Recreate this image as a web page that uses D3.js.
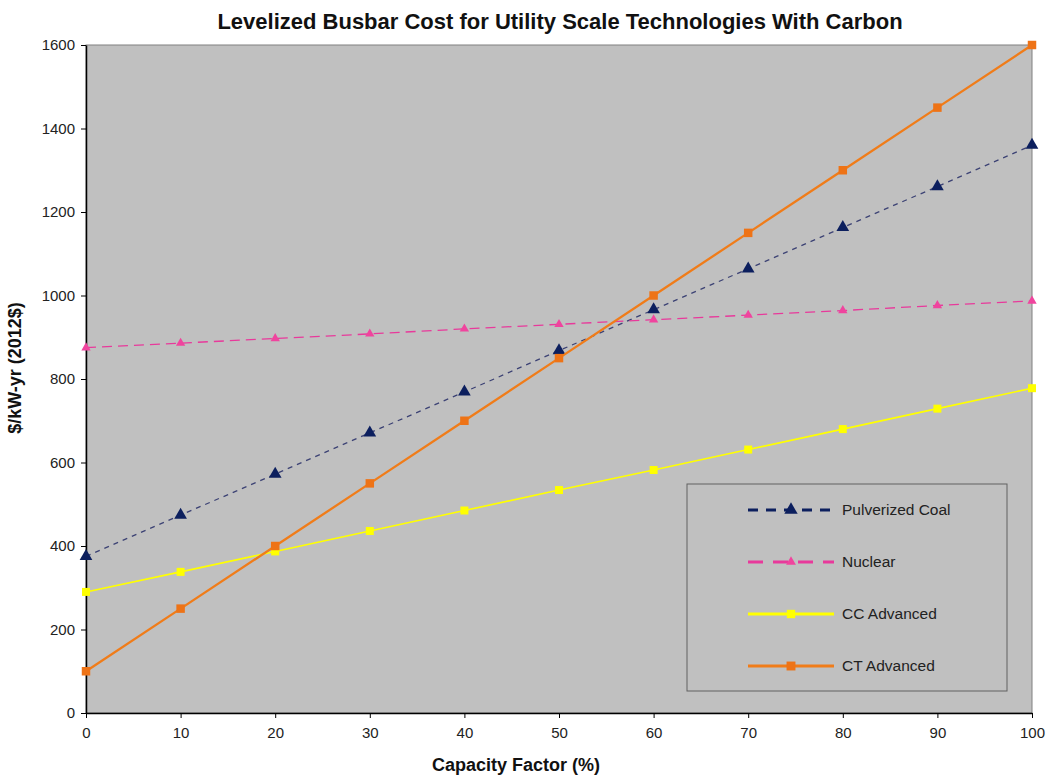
<!DOCTYPE html>
<html>
<head>
<meta charset="utf-8">
<script src="https://cdn.jsdelivr.net/npm/d3@7"></script>
<style>
  body { margin: 0; background: #fff; font-family: "Liberation Sans", Arial, sans-serif; }
</style>
</head>
<body>
<div id="chart"></div>
<script>
// Capacity factor (%) on the x axis
const capacity = [0, 10, 20, 30, 40, 50, 60, 70, 80, 90, 100];

// $/kW-yr (2012$)
const coal = [375, 474, 572, 671, 769, 868, 966, 1064, 1163, 1261, 1360];
const nuclear = [875, 886, 897, 908, 920, 931, 942, 953, 964, 976, 987];
const ccAdvanced = [290, 338, 387, 436, 485, 534, 582, 631, 680, 729, 778];
const ctAdvanced = [100, 250, 400, 550, 700, 850, 1000, 1150, 1300, 1450, 1600];

const seriesNames = ['Pulverized Coal', 'Nuclear', 'CC Advanced', 'CT Advanced'];
const yTicks = [0, 200, 400, 600, 800, 1000, 1200, 1400, 1600];

const W = 1048, H = 775;
const margin = { top: 45, right: 16, bottom: 62, left: 86 };
const width = W - margin.left - margin.right;
const height = H - margin.top - margin.bottom;

const svg = d3.select('#chart').append('svg')
    .attr('width', W)
    .attr('height', H);

const g = svg.append('g')
    .attr('transform', `translate(${margin.left},${margin.top})`);

const x = d3.scaleLinear().domain([0, 100]).range([0, width]);
const y = d3.scaleLinear().domain([0, 1600]).range([height, 0]);

// plot background
g.append('rect')
    .attr('width', width)
    .attr('height', height)
    .attr('fill', '#c0c0c0')
    .attr('stroke', '#808080')
    .attr('stroke-width', 1);

// axes
const xAxis = g.append('g')
    .attr('transform', `translate(0,${height})`)
    .call(d3.axisBottom(x).tickValues(capacity).tickFormat(d3.format('d')).tickSize(5).tickSizeOuter(0));
const yAxis = g.append('g')
    .call(d3.axisLeft(y).tickValues(yTicks).tickFormat(d3.format('d')).tickSize(5).tickSizeOuter(0));

[xAxis, yAxis].forEach(ax => {
    ax.select('.domain').attr('stroke', '#000').attr('stroke-width', 1.5);
    ax.selectAll('.tick line').attr('stroke', '#000');
    ax.selectAll('text')
        .style('font-family', '"Liberation Sans", Arial, sans-serif')
        .style('font-size', '15px')
        .style('fill', '#222');
});
xAxis.selectAll('text').attr('dy', '1.15em');
yAxis.selectAll('text').attr('x', -11);

// title + axis labels
svg.append('text')
    .attr('x', 560)
    .attr('y', 29)
    .attr('text-anchor', 'middle')
    .style('font-size', '22px')
    .style('font-weight', 'bold')
    .style('fill', '#111')
    .text('Levelized Busbar Cost for Utility Scale Technologies With Carbon');

svg.append('text')
    .attr('x', 516)
    .attr('y', 771)
    .attr('text-anchor', 'middle')
    .style('font-size', '18px')
    .style('font-weight', 'bold')
    .style('fill', '#111')
    .text('Capacity Factor (%)');

svg.append('text')
    .attr('transform', 'rotate(-90)')
    .attr('x', -368)
    .attr('y', 21)
    .attr('text-anchor', 'middle')
    .style('font-size', '18px')
    .style('font-weight', 'bold')
    .style('fill', '#111')
    .text('$/kW-yr (2012$)');

// series styles
const styles = {
    'Pulverized Coal': { values: coal, line: '#3c4274', marker: '#0c1f5e', dash: '5,5', width: 1.3, shape: 'triangle', size: 70 },
    'Nuclear': { values: nuclear, line: '#e8399b', marker: '#f0449e', dash: '10,6', width: 1.3, shape: 'triangle', size: 38 },
    'CC Advanced': { values: ccAdvanced, line: '#ffff00', marker: '#ffff00', dash: null, width: 1.6, shape: 'square', size: 64 },
    'CT Advanced': { values: ctAdvanced, line: '#f07c19', marker: '#ee7316', dash: null, width: 2.3, shape: 'square', size: 72 }
};

const line = d3.line()
    .x((d, i) => x(capacity[i]))
    .y(d => y(d));

function symbolFor(s) {
    return d3.symbol()
        .type(s.shape === 'triangle' ? d3.symbolTriangle : d3.symbolSquare)
        .size(s.size);
}

seriesNames.forEach(name => {
    const s = styles[name];
    g.append('path')
        .datum(s.values)
        .attr('d', line)
        .attr('fill', 'none')
        .attr('stroke', s.line)
        .attr('stroke-width', s.width)
        .attr('stroke-dasharray', s.dash);

    g.selectAll(null)
        .data(s.values)
        .enter()
        .append('path')
        .attr('d', symbolFor(s))
        .attr('transform', (d, i) => `translate(${x(capacity[i])},${y(d)})`)
        .attr('fill', s.marker);
});

// legend
const legend = svg.append('g').attr('transform', 'translate(687,484)');
legend.append('rect')
    .attr('width', 320)
    .attr('height', 207)
    .attr('fill', '#c0c0c0')
    .attr('stroke', '#606060')
    .attr('stroke-width', 1);

const legendStyles = {
    'Pulverized Coal': { color: '#0c1f5e', dash: '10,8', width: 3 },
    'Nuclear': { color: '#e8399b', dash: '15,10', width: 3 },
    'CC Advanced': { color: '#ffff00', dash: null, width: 3 },
    'CT Advanced': { color: '#f07c19', dash: null, width: 3 }
};

seriesNames.forEach((name, i) => {
    const s = styles[name];
    const ls = legendStyles[name];
    const item = legend.append('g')
        .attr('transform', `translate(0,${26 + i * 52})`);
    item.append('line')
        .attr('x1', 61).attr('x2', 147)
        .attr('stroke', ls.color)
        .attr('stroke-width', ls.width)
        .attr('stroke-dasharray', ls.dash);
    item.append('path')
        .attr('d', symbolFor(s).size(s.size * 1.1))
        .attr('transform', 'translate(104,0)')
        .attr('fill', s.marker);
    item.append('text')
        .attr('x', 155)
        .attr('y', 5)
        .style('font-size', '15.5px')
        .style('fill', '#222')
        .text(name);
});
</script>
</body>
</html>
